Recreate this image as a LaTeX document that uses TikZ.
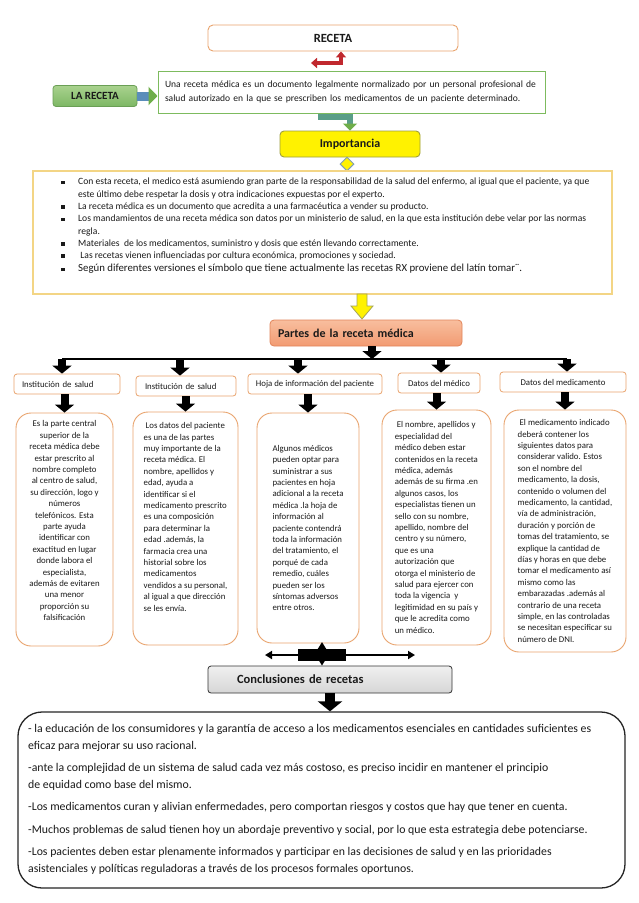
\documentclass[tikz,border=0pt]{standalone}
\usepackage{fontspec}
\setmainfont{Carlito}
\usetikzlibrary{arrows.meta,shapes.geometric}
\definecolor{obord}{HTML}{E9A46E}
\definecolor{gbord}{HTML}{7DBB5E}
\definecolor{lbord}{HTML}{F3D585}
\definecolor{steel}{HTML}{5A8DBA}
\definecolor{agreen}{HTML}{6FAE4A}
\definecolor{teal2}{HTML}{5A9E88}
\definecolor{redA}{HTML}{C0282E}
\definecolor{impb}{HTML}{9E9E40}
\definecolor{dgray}{HTML}{7E9DB8}
\definecolor{ygray}{HTML}{A5A55A}
\definecolor{pbord}{HTML}{E2855A}
\definecolor{ptop}{HTML}{F8BE9E}
\definecolor{pbot}{HTML}{F29B72}
\definecolor{lgtop}{HTML}{A9D28E}
\definecolor{lgbot}{HTML}{7DB764}
\definecolor{lgbord}{HTML}{6A9F55}
\definecolor{ctop}{HTML}{F0F0F0}
\definecolor{cbot}{HTML}{D6D6D6}
\definecolor{txt}{HTML}{1A1A1A}
\newcommand\bulsq{\makebox[17pt][l]{\rule[0.8pt]{3.4pt}{3.4pt}}}
\newcommand\bulind{\hspace*{17pt}}
\begin{document}
\begin{tikzpicture}[x=1pt,y=-1pt,
  every node/.style={text=txt},
  hdr/.style={draw=obord, line width=0.8, rounded corners=3, fill=white, font=\fontsize{8.8}{10}\selectfont, inner ysep=0, minimum height=20},
  bodybox/.style={draw=obord, line width=0.9, rounded corners=15, fill=white, font=\fontsize{8.8}{11.4}\selectfont, inner sep=0, align=left},
  blk/.style={line width=8, black, -{Triangle[width=19pt,length=8pt]}},
  blkbig/.style={line width=10, black, -{Triangle[width=24pt,length=10pt]}},
  dbl/.style={line width=2.4, black, {Triangle[width=8pt,length=7pt]}-{Triangle[width=8pt,length=7pt]}}
]
\useasboundingbox (0,0) rectangle (638,903);
\fill[white] (0,0) rectangle (638,903);

% top
\node[draw=obord, line width=0.9, rounded corners=5, fill=white, minimum width=250, minimum height=26, inner sep=0, font=\bfseries\fontsize{12.5}{14}\selectfont] (receta) at (333,38) {RECETA};

\node[draw=gbord, line width=1, fill=white, minimum height=42, text width=373, inner xsep=7, inner ysep=0, align=left, font=\fontsize{9.55}{14}\selectfont] (desc) at (351.5,92) {Una receta médica es un documento legalmente normalizado por un personal profesional de\\salud autorizado en la que se prescriben los medicamentos de un paciente determinado.};

\node[draw=lgbord, line width=0.8, top color=lgtop, bottom color=lgbot, rounded corners=3, minimum width=84, minimum height=21, inner sep=0, font=\bfseries\fontsize{11}{13}\selectfont] (lar) at (95,96) {LA RECETA};

\draw[line width=9, draw=steel, -{Triangle[width=18pt,length=9pt,color=agreen]}] (lar.east) -- (lar.east -| desc.west);

\coordinate (rx) at (341,0);
\coordinate (rcorner) at (341,63);
\coordinate (rtip) at (311,63);
\draw[line width=3.5, redA, line join=miter, {Triangle[width=10pt,length=6pt]}-{Triangle[width=10pt,length=6pt]}] (receta.south -| rx) -- (rcorner) -- (rtip);

\node[draw=impb, line width=0.9, fill=yellow, rounded corners=4, minimum width=140, minimum height=26, inner sep=0, font=\bfseries\fontsize{12}{14}\selectfont] (imp) at (350,144) {Importancia};

\coordinate (gs) at (318,117);
\draw[line width=6, teal2, line join=miter, -{Triangle[width=14pt,length=7pt,color=agreen]}] (gs) -- (gs -| imp.north) -- (imp.north);

\node[diamond, draw=dgray, line width=1, fill=yellow, minimum width=14, minimum height=14, inner sep=0] (dia) at (347,164) {};

% importance list
\node[draw=lbord, line width=1.4, fill=white, minimum width=579, minimum height=123, inner sep=0] (lst) at (322.5,232.5) {};
\node[anchor=north west, inner sep=0, align=left, font=\fontsize{9.6}{12.3}\selectfont] (lsttxt) at (61,178) {%
\bulsq Con esta receta, el medico está asumiendo gran parte de la responsabilidad de la salud del enfermo, al igual que el paciente, ya que\\
\bulind este último debe respetar la dosis y otra indicaciones expuestas por el experto.\\
\bulsq La receta médica es un documento que acredita a una farmacéutica a vender su producto.\\
\bulsq Los mandamientos de una receta médica son datos por un ministerio de salud, en la que esta institución debe velar por las normas\\
\bulind regla.\\
\bulsq Materiales\ \ de los medicamentos, suministro y dosis que estén llevando correctamente.\\
\bulsq \ Las recetas vienen influenciadas por cultura económica, promociones y sociedad.\\[1pt]
\bulsq {\fontsize{10.8}{12.5}\selectfont Según diferentes versiones el símbolo que tiene actualmente las recetas RX proviene del latín tomar¨.}};

\coordinate (ya) at (362,294);
\filldraw[fill=yellow, draw=ygray, line width=0.8] (ya) ++(-5,0) -- ++(10,0) -- ++(0,12) -- ++(6,0) -- ++(-11,13) -- ++(-11,-13) -- ++(6,0) -- cycle;

% partes
\node[draw=pbord, line width=0.8, top color=ptop, bottom color=pbot, rounded corners=4, minimum height=26, text width=176, inner xsep=8, inner ysep=0, align=left, font=\bfseries\fontsize{12}{14}\selectfont] (partes) at (366,333) {Partes de la receta médica};

\coordinate (pj) at (372,359);
\draw[blk] (partes.south -| pj) -- (pj);
\coordinate (hl) at (62,359);
\coordinate (hr) at (567,359);
\draw[line width=1.3, black] (hl) -- (hr);

% headers
\node[hdr, text width=90, inner xsep=8, align=left] (h1) at (67,384) {Institución de salud};
\node[hdr, text width=82, inner xsep=9, align=left] (h2) at (186,386) {Institución de salud};
\node[hdr, minimum width=134, inner xsep=0] (h3) at (315,384) {Hoja de información del paciente};
\node[hdr, minimum width=82, inner xsep=0] (h4) at (439,383) {Datos del médico};
\node[hdr, minimum width=126, inner xsep=0] (h5) at (563,382) {Datos del medicamento};

\coordinate (j1) at (62,359);
\coordinate (j2) at (180,359);
\coordinate (j3) at (298,359);
\coordinate (j4) at (441,359);
\coordinate (j5) at (567,359);
\draw[blk] (j1) -- (j1 |- h1.north);
\draw[blk] (j2) -- (j2 |- h2.north);
\draw[blk] (j3) -- (j3 |- h3.north);
\draw[blk] (j4) -- (j4 |- h4.north);
\draw[blk] (j5) -- (j5 |- h5.north);

% bodies
\node[bodybox, align=center, minimum width=97, minimum height=233] (b1) at (64.5,529.5) {Es la parte central\\superior de la\\receta médica debe\\estar prescrito al\\nombre completo\\al centro de salud,\\su dirección, logo y\\números\\telefónicos. Esta\\parte ayuda\\identificar con\\exactitud en lugar\\donde labora el\\especialista,\\además de evitaren\\una menor\\proporción su\\falsificación\\[6pt]};

\node[bodybox, minimum width=105, minimum height=233] (b2) at (185.5,528.5) {\ Los datos del paciente\\es una de las partes\\muy importante de la\\receta médica. El\\nombre, apellidos y\\edad, ayuda a\\identificar si el\\medicamento prescrito\\es una composición\\para determinar la\\edad .además, la\\farmacia crea una\\historial sobre los\\medicamentos\\vendidos a su personal,\\al igual a que dirección\\se les envía.\\[12pt]};

\node[bodybox, minimum width=102, minimum height=230] (b3) at (308,528) {Algunos médicos\\pueden optar para\\suministrar a sus\\pacientes en hoja\\adicional a la receta\\médica .la hoja de\\información al\\paciente contendrá\\toda la información\\del tratamiento, el\\porqué de cada\\remedio, cuáles\\pueden ser los\\síntomas adversos\\entre otros.};

\node[bodybox, minimum width=109, minimum height=235] (b4) at (436.5,527.5) {\ El nombre, apellidos y\\especialidad del\\médico deben estar\\contenidos en la receta\\médica, además\\además de su firma .en\\algunos casos, los\\especialistas tienen un\\sello con su nombre,\\apellido, nombre del\\centro y su número,\\que es una\\autorización que\\otorga el ministerio de\\salud para ejercer con\\toda la vigencia\ \ y\\legitimidad en su país y\\que le acredita como\\un médico.};

\node[bodybox, minimum width=122, minimum height=242] (b5) at (565,531) {\ El medicamento indicado\\deberá contener los\\siguientes datos para\\considerar valido. Estos\\son el nombre del\\medicamento, la dosis,\\contenido o volumen del\\medicamento, la cantidad,\\vía de administración,\\duración y porción de\\tomas del tratamiento, se\\explique la cantidad de\\días y horas en que debe\\tomar el medicamento así\\mismo como las\\embarazadas .además al\\contrario de una receta\\simple, en las controladas\\se necesitan especificar su\\número de DNI.};

\draw[blk] (h1.south -| b1.north) -- (b1.north);
\draw[blk] (h2.south -| b2.north) -- (b2.north);
\draw[blk] (h3.south -| b3.north) -- (b3.north);
\draw[blk] (h4.south -| b4.north) -- (b4.north);
\draw[blk] (h5.south -| b5.north) -- (b5.north);

% conclusions
\node[draw=black!80, line width=0.8, top color=ctop, bottom color=cbot, rounded corners=3, minimum height=27, text width=186, inner xsep=29, inner ysep=0, align=left, font=\bfseries\fontsize{12.5}{14}\selectfont] (conc) at (330,679.5) {Conclusiones de recetas};

\node[fill=black, minimum width=48, minimum height=12, inner sep=0] (jn) at (322,655) {};
\coordinate (jl) at (265,655);
\coordinate (jr) at (415,655);
\coordinate (jt) at (322,642);
\draw[dbl] (jl) -- (jr);
\draw[dbl] (jt) -- (conc.north -| jt);

\node[draw=black!85, line width=1.3, fill=white, rounded corners=24, minimum width=607, minimum height=176, inner sep=0] (big) at (321.5,800) {};
\coordinate (cj) at (330,0);
\draw[blkbig] (conc.south -| cj) -- (big.north -| cj);

\node[anchor=north west, inner sep=0, align=left, font=\fontsize{11.8}{17}\selectfont] (bigtxt) at (28,724) {%
- la educación de los consumidores y la garantía de acceso a los medicamentos esenciales en cantidades suficientes es\\
eficaz para mejorar su uso racional.\\[5pt]
-ante la complejidad de un sistema de salud cada vez más costoso, es preciso incidir en mantener el principio\\
de equidad como base del mismo.\\[5pt]
-Los medicamentos curan y alivian enfermedades, pero comportan riesgos y costos que hay que tener en cuenta.\\[6pt]
-Muchos problemas de salud tienen hoy un abordaje preventivo y social, por lo que esta estrategia debe potenciarse.\\[5pt]
-Los pacientes deben estar plenamente informados y participar en las decisiones de salud y en las prioridades\\
asistenciales y políticas reguladoras a través de los procesos formales oportunos.};
\end{tikzpicture}
\end{document}
